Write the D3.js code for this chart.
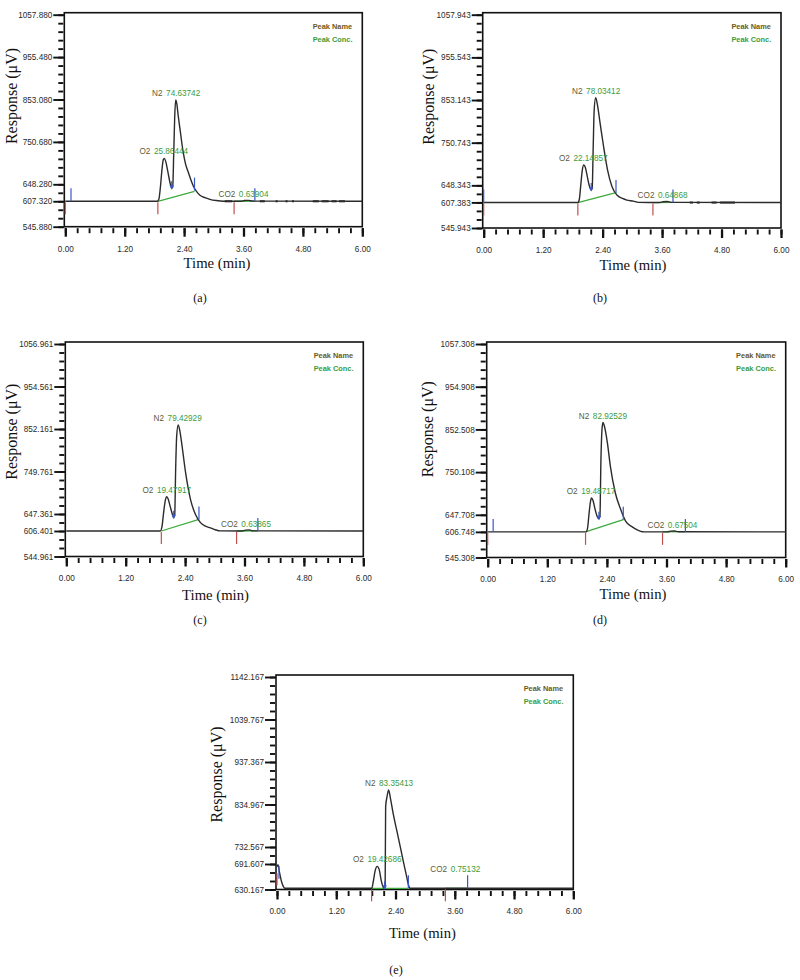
<!DOCTYPE html>
<html><head><meta charset="utf-8">
<script src="https://cdn.jsdelivr.net/npm/d3@7"></script>
<style>body{margin:0;background:#fff}svg{display:block}</style>
</head><body>
<svg id="chart" width="800" height="980"></svg>
<script>
// ---------------- DATA ----------------
const peakNames = ["O2", "N2", "CO2"];
const panelLabels = ["(a)", "(b)", "(c)", "(d)", "(e)"];
const yMins = [545.880, 545.943, 544.961, 545.308, 630.167];
const yBaseLabels = [607.320, 607.383, 606.401, 606.748, 691.607];
const yMajorStep = 102.4;
const xTickLabels = ["0.00", "1.20", "2.40", "3.60", "4.80", "6.00"];

// (a)
const aTime = [0, 1.86, 1.89, 1.92, 1.95, 1.98, 2.00, 2.03, 2.07, 2.11, 2.15, 2.17, 2.19, 2.21, 2.23, 2.25, 2.28, 2.32, 2.38, 2.43, 2.48, 2.54, 2.59, 2.65, 2.72, 2.82, 2.92, 3.05, 3.20, 3.55, 3.62, 3.70, 3.78, 6.00];
const aResp = [607.3, 607.3, 612, 640, 680, 708, 711, 703, 680, 655, 639, 642, 720, 810, 852, 845, 815, 779, 727, 697, 679, 658, 643, 631, 622, 616, 612, 609, 607.5, 607.3, 609, 609.5, 607.6, 607.3];
const aConc = ["25.86444", "74.63742", "0.63904"];
const aPeakTime = [1.99, 2.24, 3.60];
const aPeakTop = [711, 852, 608];
const aStartTime = [0, 1.87, 3.41];
const aStartBase = [607.3, 607.3, 607.3];
const aEndTime = [0.115, 2.61, 3.83];
const aEndBase = [607.3, 633, 607.3];
const aGreen = [[1.87, 607.3, 2.61, 631], [3.41, 607.3, 3.83, 608]];
const aValley = [2.15, 639];
const aNoise = [[3.22, 3.37], [3.93, 4.03], [4.25, 4.29], [4.45, 4.49], [4.58, 4.62], [5.0, 5.12], [5.18, 5.32], [5.38, 5.48], [5.53, 5.65]];

// (b)
const bTime = [0, 1.90, 1.93, 1.96, 1.99, 2.02, 2.05, 2.09, 2.13, 2.17, 2.19, 2.21, 2.23, 2.26, 2.29, 2.35, 2.42, 2.50, 2.59, 2.69, 2.80, 2.89, 3.02, 3.12, 3.55, 3.62, 3.70, 3.78, 6.00];
const bResp = [607, 607, 615, 650, 685, 697, 692, 670, 648, 637, 642, 740, 830, 859, 845, 797, 741, 685, 645, 625, 617, 613, 610.5, 607.5, 607, 609, 609.5, 607.5, 607];
const bConc = ["22.14857", "78.03412", "0.64868"];
const bPeakTime = [2.01, 2.27, 3.61];
const bPeakTop = [697, 859, 608];
const bStartTime = [0, 1.90, 3.415];
const bStartBase = [607, 607, 607];
const bEndTime = [0.0, 2.67, 3.82];
const bEndBase = [607, 630, 607];
const bGreen = [[1.90, 607, 2.67, 630.7], [3.415, 607, 3.82, 607.5]];
const bValley = [2.17, 637];
const bNoise = [[4.16, 4.22], [4.30, 4.36], [4.60, 4.70], [4.77, 5.07]];

// (c)
const cTime = [0, 1.90, 1.93, 1.97, 2.00, 2.03, 2.06, 2.10, 2.14, 2.17, 2.19, 2.21, 2.23, 2.26, 2.29, 2.34, 2.41, 2.51, 2.61, 2.71, 2.81, 2.91, 3.01, 3.11, 3.55, 3.62, 3.70, 3.76, 6.00];
const cResp = [606.4, 606.4, 615, 655, 680, 689, 683, 665, 648, 638.6, 645, 760, 835, 862, 850, 810, 747, 682, 646, 626.5, 618, 614, 609.5, 606.6, 606.4, 608.5, 609, 606.8, 606.4];
const cConc = ["19.47917", "79.42929", "0.63865"];
const cPeakTime = [2.03, 2.25, 3.63];
const cPeakTop = [689, 862, 607];
const cStartTime = [1.92, 3.44];
const cStartBase = [606.4, 606.4];
const cEndTime = [2.68, 3.87];
const cEndBase = [634, 606.4];
const cGreen = [[1.92, 606.4, 2.68, 634.5], [3.44, 606.4, 3.87, 607]];
const cValley = [2.17, 638.6];
const cNoise = [];

// (d)
const dTime = [0, 1.98, 2.01, 2.04, 2.07, 2.09, 2.12, 2.16, 2.20, 2.24, 2.26, 2.28, 2.30, 2.32, 2.35, 2.41, 2.47, 2.57, 2.68, 2.78, 2.91, 3.00, 3.08, 3.15, 3.62, 3.68, 3.76, 3.84, 6.00];
const dResp = [606.75, 606.75, 615, 650, 680, 688, 682, 662, 645, 638, 645, 780, 850, 869, 860, 820, 764, 700, 660, 632, 618.7, 612, 608, 606.8, 606.75, 608.5, 609, 607, 606.75];
const dConc = ["19.48717", "82.92529", "0.67504"];
const dPeakTime = [2.08, 2.32, 3.72];
const dPeakTop = [688, 869, 607];
const dStartTime = [0, 1.97, 3.52];
const dStartBase = [606.75, 606.75, 606.75];
const dEndTime = [0.11, 2.73, 3.98];
const dEndBase = [606.75, 636, 606.75];
const dGreen = [[1.97, 606.75, 2.73, 636], [3.52, 606.75, 3.98, 607.3]];
const dValley = [2.24, 638];
const dNoise = [];

// (e)
const eTime = [0.00, 0.02, 0.05, 0.09, 0.13, 0.16, 1.92, 1.95, 1.99, 2.03, 2.07, 2.11, 2.15, 2.18, 2.19, 2.20, 2.23, 2.26, 2.30, 2.35, 2.45, 2.54, 2.62, 2.67, 2.69, 6.00];
const eResp = [685, 690, 672, 650, 637, 633, 633, 650, 677, 686, 678, 652, 636, 633, 640, 830, 855, 870, 848, 815, 759, 708, 664, 638, 633, 633];
const eConc = ["19.42686", "83.35413", "0.75132"];
const ePeakTime = [2.03, 2.27, 3.61];
const ePeakTop = [686, 870, 663];
const eStartTime = [0.0, 1.915, 3.41];
const eStartBase = [672, 633, 633];
const eEndTime = [0.04, 2.66, 3.86];
const eEndBase = [656, 633, 633];
const eGreen = [[1.915, 633, 2.66, 633], [3.41, 633, 3.86, 633]];
const eValley = [2.18, 633];
const eNoise = [];

// ---------------- LAYOUT ----------------
const layout = [
  {l: 64.3, t: 12.7, r: 362.3, b: 226.7, ytX: 12.3, ytY: 96, xtX: 217, xtY: 268, labX: 200, labY: 302},
  {l: 482.7, t: 12.7, r: 781, b: 228, ytX: 429.3, ytY: 96.7, xtX: 633, xtY: 269.5, labX: 600, labY: 302},
  {l: 65.3, t: 342, r: 363.3, b: 556.5, ytX: 11.7, ytY: 431.7, xtX: 215.5, xtY: 599.5, labX: 200, labY: 624},
  {l: 486.7, t: 342, r: 785.7, b: 557.5, ytX: 428.3, ytY: 429.2, xtX: 633, xtY: 598.8, labX: 600, labY: 624},
  {l: 276, t: 675, r: 573.3, b: 889.5, ytX: 217.3, ytY: 774.5, xtX: 422.5, xtY: 937.8, labX: 396, labY: 974}
];

const series = [
  {time: aTime, resp: aResp, conc: aConc, pt: aPeakTime, pv: aPeakTop, st: aStartTime, sb: aStartBase, et: aEndTime, eb: aEndBase, green: aGreen, valley: aValley, noise: aNoise},
  {time: bTime, resp: bResp, conc: bConc, pt: bPeakTime, pv: bPeakTop, st: bStartTime, sb: bStartBase, et: bEndTime, eb: bEndBase, green: bGreen, valley: bValley, noise: bNoise},
  {time: cTime, resp: cResp, conc: cConc, pt: cPeakTime, pv: cPeakTop, st: cStartTime, sb: cStartBase, et: cEndTime, eb: cEndBase, green: cGreen, valley: cValley, noise: cNoise},
  {time: dTime, resp: dResp, conc: dConc, pt: dPeakTime, pv: dPeakTop, st: dStartTime, sb: dStartBase, et: dEndTime, eb: dEndBase, green: dGreen, valley: dValley, noise: dNoise},
  {time: eTime, resp: eResp, conc: eConc, pt: ePeakTime, pv: ePeakTop, st: eStartTime, sb: eStartBase, et: eEndTime, eb: eEndBase, green: eGreen, valley: eValley, noise: eNoise}
];

const svg = d3.select("#chart");
const sans = "'Liberation Sans', Arial, sans-serif";
const serif = "'Liberation Serif', 'Times New Roman', serif";
const C = {line: "#2b2b2b", red: "#c0504d", blue: "#3a56c8", green: "#3daa3d", name: "#6b5a1c", nameLbl: "#5d5a38", conc: "#3c9c3c"};

series.forEach((s, i) => {
  const L = layout[i];
  const g = svg.append("g");
  const x = d3.scaleLinear().domain([0, 6]).range([L.l + 1, L.r]);
  const yMin = yMins[i];
  const y = d3.scaleLinear().domain([yMin, yMin + 5 * yMajorStep]).range([L.b, L.t + 2]);

  // axes
  const majorY = d3.range(6).map(k => yMin + k * yMajorStep).concat([yBaseLabels[i]]);
  const minorY = d3.range(26).map(k => yMin + k * yMajorStep / 5);
  const ayMin = g.append("g").attr("transform", `translate(${L.l - 1},0)`)
    .call(d3.axisLeft(y).tickValues(minorY).tickSize(5).tickSizeOuter(0).tickFormat(""));
  const ayMaj = g.append("g").attr("transform", `translate(${L.l},0)`)
    .call(d3.axisLeft(y).tickValues(majorY).tickSize(11).tickSizeOuter(0).tickPadding(1).tickFormat(d3.format(".3f")));
  const majorX = d3.range(6).map(k => k * 1.2);
  const minorX = d3.range(26).map(k => k * 0.24);
  const axMin = g.append("g").attr("transform", `translate(0,${L.b + 1.5})`)
    .call(d3.axisBottom(x).tickValues(minorX).tickSize(5).tickSizeOuter(0).tickFormat(""));
  const axMaj = g.append("g").attr("transform", `translate(0,${L.b + 1.5})`)
    .call(d3.axisBottom(x).tickValues(majorX).tickSize(8.5).tickSizeOuter(0).tickPadding(9).tickFormat((d, k) => xTickLabels[k]));
  [ayMin, ayMaj, axMin, axMaj].forEach(a => {
    a.select(".domain").remove();
    a.selectAll("line").attr("stroke", "#111").attr("stroke-width", 1.9);
    a.selectAll("text").attr("font-family", sans).attr("font-size", 8.2).attr("fill", "#2a2a2a");
  });
  axMaj.selectAll("line").attr("stroke-width", 2.3);

  // plot box
  g.append("rect").attr("x", L.l).attr("y", L.t).attr("width", L.r - L.l).attr("height", L.b - L.t)
    .attr("fill", "none").attr("stroke", "#111").attr("stroke-width", 1.6);

  // green baselines
  s.green.forEach(seg => {
    g.append("line").attr("x1", x(seg[0])).attr("y1", y(seg[1])).attr("x2", x(seg[2])).attr("y2", y(seg[3]))
      .attr("stroke", C.green).attr("stroke-width", 1.3);
  });

  // chromatogram
  const pts = s.time.map((t, k) => [t, s.resp[k]]);
  g.append("path").datum(pts)
    .attr("d", d3.line().x(d => x(d[0])).y(d => y(d[1])).curve(d3.curveMonotoneX))
    .attr("fill", "none").attr("stroke", C.line).attr("stroke-width", 1.4).attr("stroke-linejoin", "round");

  // baseline noise
  const baseV = s.resp[s.resp.length - 1];
  s.noise.forEach(n => {
    g.append("line").attr("x1", x(n[0])).attr("x2", x(n[1])).attr("y1", y(baseV)).attr("y2", y(baseV))
      .attr("stroke", C.line).attr("stroke-width", 2.1);
  });

  // start (red) ticks
  s.st.forEach((t, k) => {
    g.append("line").attr("x1", x(t)).attr("x2", x(t)).attr("y1", y(s.sb[k]) + 1).attr("y2", y(s.sb[k]) + 13)
      .attr("stroke", C.red).attr("stroke-width", 1.2);
  });
  // end (blue) ticks
  s.et.forEach((t, k) => {
    g.append("line").attr("x1", x(t)).attr("x2", x(t)).attr("y1", y(s.eb[k])).attr("y2", y(s.eb[k]) - 13)
      .attr("stroke", C.blue).attr("stroke-width", 1.2);
  });
  // valley arrow
  const vx = x(s.valley[0]), vy = y(s.valley[1]);
  g.append("line").attr("x1", vx).attr("x2", vx).attr("y1", vy - 7).attr("y2", vy).attr("stroke", C.blue).attr("stroke-width", 1.2);
  g.append("path").attr("d", `M${vx - 2.2},${vy - 3} L${vx + 2.2},${vy - 3} L${vx},${vy + 1.5} Z`).attr("fill", C.blue);

  // peak labels
  peakNames.forEach((nm, k) => {
    const tx = g.append("text").attr("x", x(s.pt[k])).attr("y", y(s.pv[k]) - 4)
      .attr("text-anchor", "middle").attr("font-family", sans).attr("font-size", 8.2);
    tx.append("tspan").attr("fill", C.nameLbl).text(nm);
    tx.append("tspan").attr("dx", 3.5).attr("fill", C.conc).text(s.conc[k]);
  });

  // legend
  g.append("text").attr("x", L.r - 49.6).attr("y", L.t + 16).attr("font-family", sans).attr("font-size", 7.4)
    .attr("font-weight", "bold").attr("fill", C.name).text("Peak Name");
  g.append("text").attr("x", L.r - 49.6).attr("y", L.t + 29).attr("font-family", sans).attr("font-size", 7.4)
    .attr("font-weight", "bold").attr("fill", C.conc).text("Peak Conc.");

  // axis titles
  g.append("text").attr("transform", `translate(${L.ytX + 5},${L.ytY}) rotate(-90)`)
    .attr("text-anchor", "middle").attr("font-family", serif).attr("font-size", 16).attr("fill", "#111")
    .text("Response (μV)");
  g.append("text").attr("x", L.xtX).attr("y", L.xtY).attr("text-anchor", "middle")
    .attr("font-family", serif).attr("font-size", 14.7).attr("fill", "#111").text("Time (min)");
  g.append("text").attr("x", L.labX).attr("y", L.labY).attr("text-anchor", "middle")
    .attr("font-family", serif).attr("font-size", 12).attr("fill", "#111").text(panelLabels[i]);
});
</script>
</body></html>
